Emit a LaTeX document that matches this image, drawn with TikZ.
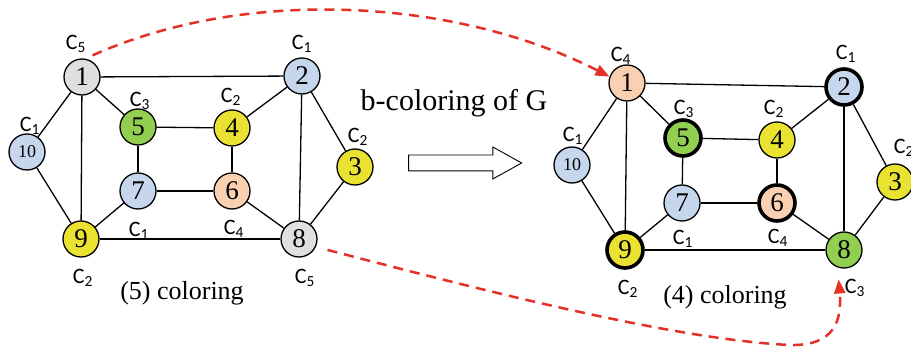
\documentclass[tikz,border=0pt]{standalone}
\usepackage{fontspec}
\setmainfont{Liberation Serif}
\newfontfamily\labelfont{Carlito}
\usetikzlibrary{shapes.arrows, arrows.meta}
\definecolor{vgray}{RGB}{223, 223, 223}
\definecolor{vblue}{RGB}{198, 214, 236}
\definecolor{vgreen}{RGB}{146, 206, 80}
\definecolor{vyellow}{RGB}{234, 226, 48}
\definecolor{vpeach}{RGB}{250, 208, 178}
\definecolor{redline}{RGB}{228, 48, 38}
\tikzset{
    vertex/.style={circle, draw=black, fill=white, line width=1.3pt, minimum size=36pt, inner sep=0pt, font=\fontsize{27}{27}\selectfont},
    bvertex/.style={vertex, line width=3.6pt},
    clabel/.style={font=\labelfont\fontsize{22}{22}\selectfont, inner sep=0pt},
    caption/.style={font=\fontsize{26}{26}\selectfont, inner sep=0pt},
    edge/.style={black, line width=1.3pt},
    redarrow/.style={-{Triangle[length=14pt, width=11pt]}, draw=redline, line width=2.5pt, dash pattern=on 10pt off 7pt}
}

\begin{document}
\begin{tikzpicture}[x=1pt, y=-1pt]
    \useasboundingbox (0,0) rectangle (911,347);

    % (5) coloring
    \node[vertex, fill=vgray] (L1) at (82,77) {1};
    \node[vertex, fill=vblue] (L2) at (302,76) {2};
    \node[vertex, fill=vyellow] (L3) at (355,167) {3};
    \node[vertex, fill=vyellow] (L4) at (232,128) {4};
    \node[vertex, fill=vgreen] (L5) at (138,127) {5};
    \node[vertex, fill=vpeach] (L6) at (232,191) {6};
    \node[vertex, fill=vblue] (L7) at (138,191) {7};
    \node[vertex, fill=vgray] (L8) at (299,239) {8};
    \node[vertex, fill=vyellow] (L9) at (81,239) {9};
    \node[vertex, fill=vblue, font=\fontsize{18}{18}\selectfont] (L10) at (27,152) {10};

    \node[clabel] (cL1) at (76,44) {C\textsubscript{5}};
    \node[clabel] (cL2) at (302,44) {C\textsubscript{1}};
    \node[clabel] (cL3) at (358,137) {C\textsubscript{2}};
    \node[clabel] (cL4) at (231,97) {C\textsubscript{2}};
    \node[clabel] (cL5) at (140,101) {C\textsubscript{3}};
    \node[clabel] (cL6) at (234,229) {C\textsubscript{4}};
    \node[clabel] (cL7) at (139,231) {C\textsubscript{1}};
    \node[clabel] (cL8) at (305,278) {C\textsubscript{5}};
    \node[clabel] (cL9) at (83,278) {C\textsubscript{2}};
    \node[clabel] (cL10) at (30,126) {C\textsubscript{1}};

    \node[caption] (capL) at (182,293) {(5) coloring};

    % (4) coloring
    \node[vertex, fill=vpeach] (R1) at (627,83) {1};
    \node[bvertex, fill=vblue] (R2) at (844,87) {2};
    \node[vertex, fill=vyellow] (R3) at (895,182) {3};
    \node[vertex, fill=vyellow] (R4) at (777,140) {4};
    \node[bvertex, fill=vgreen] (R5) at (683,138) {5};
    \node[bvertex, fill=vpeach] (R6) at (777,203) {6};
    \node[vertex, fill=vblue] (R7) at (682,203) {7};
    \node[vertex, fill=vgreen] (R8) at (844,250) {8};
    \node[bvertex, fill=vyellow] (R9) at (625,250) {9};
    \node[vertex, fill=vblue, font=\fontsize{18}{18}\selectfont] (R10) at (572,165) {10};

    \node[clabel] (cR1) at (621,56) {C\textsubscript{4}};
    \node[clabel] (cR2) at (846,54) {C\textsubscript{1}};
    \node[clabel] (cR3) at (904,148) {C\textsubscript{2}};
    \node[clabel] (cR4) at (774,109) {C\textsubscript{2}};
    \node[clabel] (cR5) at (684,109) {C\textsubscript{3}};
    \node[clabel] (cR6) at (778,238) {C\textsubscript{4}};
    \node[clabel] (cR7) at (683,239) {C\textsubscript{1}};
    \node[clabel] (cR8) at (855,288) {C\textsubscript{3}};
    \node[clabel] (cR9) at (628,289) {C\textsubscript{2}};
    \node[clabel] (cR10) at (573,136) {C\textsubscript{1}};

    \node[caption] (capR) at (725,297) {(4) coloring};

    \foreach \g in {L,R}{
        \foreach \a/\b in {1/2,1/5,1/10,1/9,10/9,5/4,5/7,4/2,4/6,7/6,7/9,6/8,2/8,2/3,3/8,9/8}
            \draw[edge] (\g\a) -- (\g\b);
    }

    % middle
    \node[caption, font=\fontsize{30}{30}\selectfont] (title) at (454,103) {b-coloring of G};
    \node[single arrow, draw=black, fill=white, line width=0.9pt, inner xsep=0pt, inner ysep=7.5pt, minimum height=113pt, single arrow head extend=8pt, single arrow tip angle=58] (barrow) at (458,163) {};

    \draw[redarrow, shorten <=8pt] (L1.80) .. controls (250,-15) and (460,0) .. (R1.160);
    \draw[redarrow, shorten <=12pt, shorten >=12pt] (L8.-25) .. controls (500,295) and (680,340) .. (790,345) .. controls (835,346) and (842,320) .. (R8.250);
\end{tikzpicture}
\end{document}
